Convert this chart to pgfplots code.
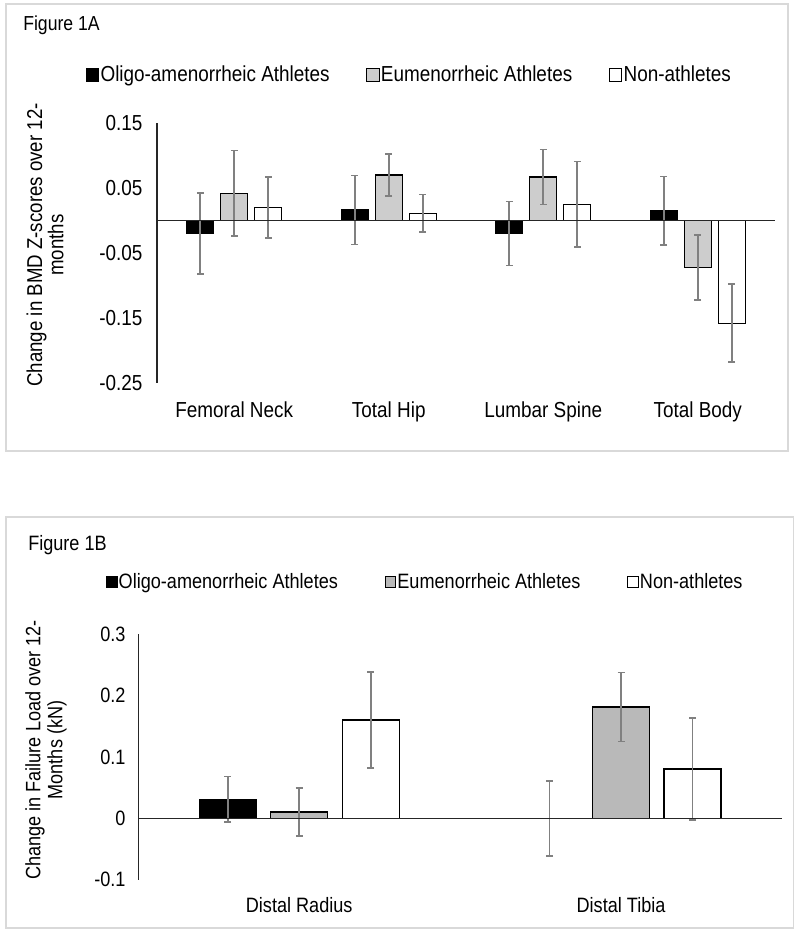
\documentclass[border=0pt]{standalone}
\usepackage{fontspec}
\setmainfont{Liberation Sans}[FakeStretch=0.87]
\usepackage{pgfplots}
\pgfplotsset{compat=1.18}
\usepackage{pgfplotstable}

\definecolor{errgray}{HTML}{808080}
\definecolor{barA}{HTML}{CDCDCD}
\definecolor{barB}{HTML}{B9B9B9}
\definecolor{framegray}{HTML}{D9D9D9}

% Figure 1A data: x, value, error
\pgfplotstableread{
x y e
0 -0.020 0.062
1 0.016 0.053
2 -0.020 0.049
3 0.015 0.053
}\oligoA
\pgfplotstableread{
x y e
0 0.042 0.066
1 0.070 0.032
2 0.067 0.042
3 -0.072 0.050
}\eumenA
\pgfplotstableread{
x y e
0 0.020 0.047
1 0.011 0.029
2 0.025 0.066
3 -0.158 0.060
}\nonA
% Figure 1B data
\pgfplotstableread{
x y e
0 0.031 0.037
1 0.000 0.061
}\oligoB
\pgfplotstableread{
x y e
0 0.010 0.039
1 0.181 0.056
}\eumenB
\pgfplotstableread{
x y e
0 0.160 0.078
1 0.080 0.083
}\nonB

\pgfplotsset{
  myerr/.style={
    error bars/.cd, y dir=both, y explicit, error mark=|,
    error bar style={color=errgray, line width=1.3pt},
    error mark options={color=errgray, line width=1.1pt, mark size=2.6pt}
  },
  legA/.style={legend image code/.code={\draw[##1, line width=0.6pt] (0pt,-4.6pt) rectangle (9.4pt,4.6pt);}},
  legB/.style={legend image code/.code={\draw[##1, line width=0.6pt] (0pt,-4pt) rectangle (8pt,4pt);}},
}

\begin{document}
\begin{tikzpicture}
\path[use as bounding box] (0,0) rectangle (600pt,699pt);
\draw[framegray, line width=1pt] (4.5pt,360.75pt) rectangle (591pt,696pt);
\draw[framegray, line width=1pt] (4.5pt,3pt) rectangle (595pt,311.25pt);

\node[anchor=west, inner sep=0pt, font=\fontsize{15.2}{17}\selectfont] at (17.25pt,680.25pt) {Figure 1A};
\node[anchor=west, inner sep=0pt, font=\fontsize{15.6}{17}\selectfont] at (21pt,290.25pt) {Figure 1B};

\node[rotate=90, align=center, font=\fontsize{16.1}{15}\selectfont] at (33.75pt,515.25pt) {Change in BMD Z-scores over 12-\\months};
\node[rotate=90, align=center, font=\fontsize{15.6}{16.5}\selectfont] at (34.5pt,136.5pt) {Change in Failure Load over 12-\\Months (kN)};

% ---------------- Figure 1A ----------------
\begin{axis}[
  at={(117.75pt,411.75pt)}, anchor=south west,
  scale only axis, width=463.5pt, height=195pt,
  xmin=-0.5, xmax=3.5, ymin=-0.25, ymax=0.15,
  ybar=5.25pt, bar width=20.25pt,
  axis line style={draw=none}, tick style={draw=none},
  xtick={0,1,2,3},
  xticklabels={Femoral Neck,Total Hip,Lumbar Spine,Total Body},
  ytick={-0.25,-0.15,-0.05,0.05,0.15},
  yticklabels={{-0.25},{-0.15},{-0.05},{0.05},{0.15}},
  tick label style={font=\fontsize{16.3}{18}\selectfont},
  yticklabel style={xshift=-7.35pt},
  xticklabel style={yshift=-6.6pt},
  legend columns=3, legend cell align=left,
  legend style={at={(axis description cs:-0.1155,1.1846)}, anchor=west,
    draw=none, fill=none, inner sep=0pt,
    nodes={inner sep=1pt}, font=\fontsize{16.3}{18}\selectfont,
    /tikz/every even column/.append style={column sep=26.5pt}},
  clip=false,
]
\addplot[fill=black, draw=black, line width=1pt, legA, myerr] table[x=x, y=y, y error=e] {\oligoA};
\addlegendentry{Oligo-amenorrheic Athletes}
\addplot[fill=barA, draw=black, line width=1pt, legA, myerr] table[x=x, y=y, y error=e] {\eumenA};
\addlegendentry{Eumenorrheic Athletes}
\addplot[fill=white, draw=black, line width=1pt, legA, myerr] table[x=x, y=y, y error=e] {\nonA};
\addlegendentry{Non-athletes}
\draw[black!85, line width=0.9pt] (axis cs:-0.5,0) -- (axis cs:3.5,0);
\draw[black!85, line width=0.9pt] (axis cs:-0.5,-0.25) -- (axis cs:-0.5,0.15);
\end{axis}

% ---------------- Figure 1B ----------------
\begin{axis}[
  at={(103.7pt,39.2pt)}, anchor=south west,
  scale only axis, width=482.8pt, height=184.3pt,
  xmin=-0.5, xmax=1.5, ymin=-0.1, ymax=0.3,
  ybar=10.9pt, bar width=42.75pt,
  axis line style={draw=none}, tick style={draw=none},
  xtick={0,1},
  xticklabels={Distal Radius,Distal Tibia},
  ytick={-0.1,0,0.1,0.2,0.3},
  yticklabels={{-0.1},{0},{0.1},{0.2},{0.3}},
  tick label style={font=\fontsize{15.6}{18}\selectfont},
  yticklabel style={xshift=-6pt},
  xticklabel style={yshift=-5.7pt},
  legend columns=3, legend cell align=left,
  legend style={at={(axis description cs:-0.0507,1.2116)}, anchor=west,
    draw=none, fill=none, inner sep=0pt,
    nodes={inner sep=1pt}, font=\fontsize{15.6}{18}\selectfont,
    /tikz/every even column/.append style={column sep=34pt}},
  clip=false,
]
\addplot[fill=black, draw=black, line width=1pt, legB, myerr] table[x=x, y=y, y error=e] {\oligoB};
\addlegendentry{Oligo-amenorrheic Athletes}
\addplot[fill=barB, draw=black, line width=1pt, legB, myerr] table[x=x, y=y, y error=e] {\eumenB};
\addlegendentry{Eumenorrheic Athletes}
\addplot[fill=white, draw=black, line width=1pt, legB, myerr] table[x=x, y=y, y error=e] {\nonB};
\addlegendentry{Non-athletes}
\draw[black!85, line width=0.9pt] (axis cs:-0.5,0) -- (axis cs:1.5,0);
\draw[black!85, line width=0.9pt] (axis cs:-0.5,-0.1) -- (axis cs:-0.5,0.3);
\end{axis}
\end{tikzpicture}
\end{document}
